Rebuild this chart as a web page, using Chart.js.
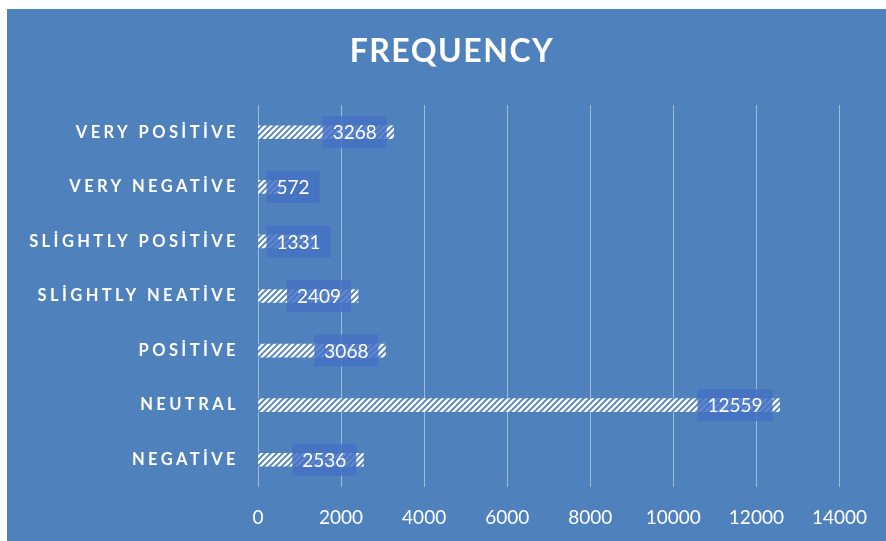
<!DOCTYPE html>
<html>
<head>
<meta charset="utf-8">
<script src="https://cdn.jsdelivr.net/npm/chart.js@4"></script>
<style>
    body { margin: 0; background: #ffffff; }
    #chart-box {
        position: absolute;
        left: 7px;
        top: 9px;
        width: 879px;
        height: 532px;
        background: #4f81bd;
    }
</style>
</head>
<body>
<div id="chart-box">
    <canvas id="freq-chart" width="879" height="532"></canvas>
</div>
<script>
// Categorías y frecuencias
var categories = ['VERY POSİTİVE', 'VERY NEGATİVE', 'SLİGHTLY POSİTİVE', 'SLİGHTLY NEATİVE', 'POSİTİVE', 'NEUTRAL', 'NEGATİVE'];
var frequencies = [3268, 572, 1331, 2409, 3068, 12559, 2536];
var xTicks = [0, 2000, 4000, 6000, 8000, 10000, 12000, 14000];

var bgColor = '#4f81bd';

// Trama diagonal blanca para las barras
function makeHatch() {
    var c = document.createElement('canvas');
    c.width = 6;
    c.height = 6;
    var g = c.getContext('2d');
    g.fillStyle = '#ffffff';
    g.fillRect(0, 0, 6, 6);
    g.strokeStyle = bgColor;
    g.lineWidth = 1.8;
    g.beginPath();
    g.moveTo(-1, 7); g.lineTo(7, -1);
    g.moveTo(-4, 4); g.lineTo(4, -4);
    g.moveTo(2, 10); g.lineTo(10, 2);
    g.stroke();
    return g.createPattern(c, 'repeat');
}

// Título, etiquetas de categoría y etiquetas de valor
var drawExtras = {
    id: 'drawExtras',
    afterDraw: function(chart) {
        var ctx = chart.ctx;
        ctx.save();

        // título
        ctx.fillStyle = '#ffffff';
        ctx.font = 'bold 32px Lato';
        ctx.letterSpacing = '1.5px';
        ctx.textAlign = 'center';
        ctx.textBaseline = 'middle';
        ctx.fillText('FREQUENCY', 445, 43);

        // categorías con espaciado
        var yScale = chart.scales.y;
        ctx.font = 'bold 16.5px Lato';
        ctx.letterSpacing = '3.4px';
        ctx.textAlign = 'right';
        yScale.getLabels().forEach(function(label, i) {
            ctx.fillText(label, chart.chartArea.left - 19, yScale.getPixelForTick(i));
        });

        // valores sobre las barras
        ctx.letterSpacing = '0px';
        ctx.font = '19px Lato';
        ctx.textAlign = 'left';
        var meta = chart.getDatasetMeta(0);
        meta.data.forEach(function(bar, i) {
            var text = String(frequencies[i]);
            var w = ctx.measureText(text).width + 20;
            var right = bar.x - 7;
            var left = right - w;
            if (left < bar.base + 8) {
                left = bar.base + 8;
            }
            ctx.fillStyle = 'rgba(68, 114, 196, 0.85)';
            ctx.fillRect(left, bar.y - 16, w, 32);
            ctx.fillStyle = '#ffffff';
            ctx.fillText(text, left + 10, bar.y + 1);
        });

        ctx.restore();
    }
};

var ctxFreq = document.getElementById('freq-chart').getContext('2d');
var chartFreq = new Chart(ctxFreq, {
    type: 'bar',
    data: {
        labels: categories,
        datasets: [{
            label: 'Frequency',
            data: frequencies,
            backgroundColor: makeHatch(),
            borderWidth: 0,
            barThickness: 13
        }]
    },
    options: {
        indexAxis: 'y',
        responsive: false,
        animation: false,
        layout: {
            padding: { top: 96, right: 46, bottom: 0, left: 0 }
        },
        plugins: {
            legend: { display: false },
            tooltip: { enabled: false }
        },
        scales: {
            x: {
                min: xTicks[0],
                max: xTicks[xTicks.length - 1],
                afterBuildTicks: function(scale) {
                    scale.ticks = xTicks.map(function(v) { return { value: v }; });
                },
                afterFit: function(scale) {
                    scale.height = 54;
                },
                grid: {
                    color: 'rgba(255, 255, 255, 0.45)',
                    drawTicks: false
                },
                border: { display: false },
                ticks: {
                    color: '#ffffff',
                    font: { family: 'Lato', size: 19 },
                    padding: 19,
                    callback: function(value) {
                        return String(value);
                    }
                }
            },
            y: {
                afterFit: function(scale) {
                    scale.width = 251;
                },
                grid: { display: false },
                border: { display: false },
                ticks: { display: false }
            }
        }
    },
    plugins: [drawExtras]
});
</script>
</body>
</html>
